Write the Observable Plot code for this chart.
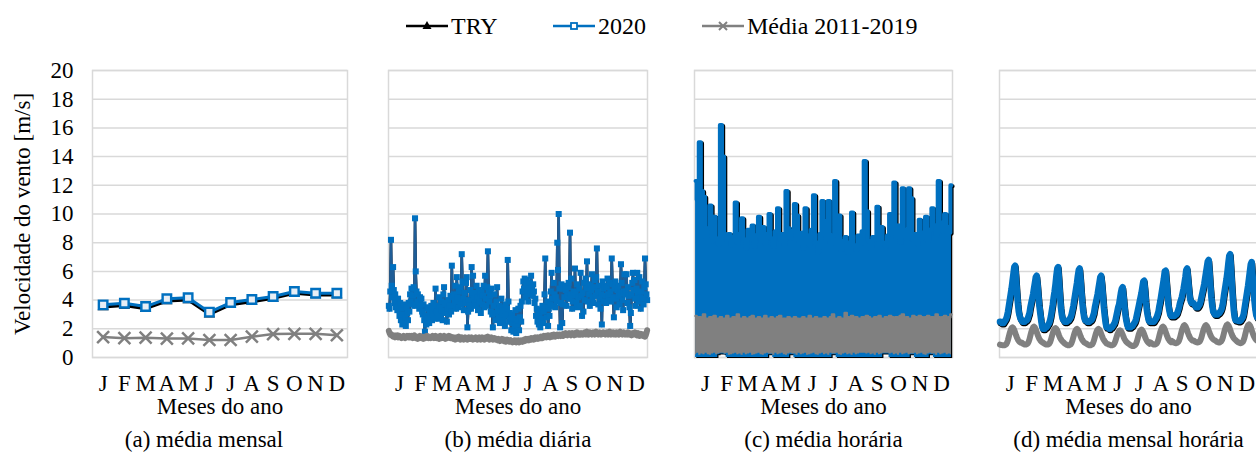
<!DOCTYPE html>
<html><head><meta charset="utf-8">
<script src="https://cdn.jsdelivr.net/npm/d3@7"></script>
<script src="https://cdn.jsdelivr.net/npm/@observablehq/plot@0.6"></script>
<style>
html,body{margin:0;padding:0;background:#fff;overflow:hidden;}
#root{position:relative;width:1256px;height:452px;overflow:hidden;font-family:'Liberation Serif','Times New Roman',serif;color:#000;background:#fff;}
#legend{position:absolute;left:0;top:0;width:1256px;height:50px;}
.li{position:absolute;top:12px;height:28px;display:flex;align-items:center;font-size:24px;white-space:nowrap;}
.li span{margin-left:3px;}
.panel{position:absolute;top:50px;height:402px;}
.panel svg, .panel svg text{font-family:'Liberation Serif','Times New Roman',serif !important;}
.panel svg text{font-size:23px;}
</style></head>
<body><div id="root"><div id="legend"></div></div>
<script>
// ---------- data ----------
const monthLabels = ["J","F","M","A","M","J","J","A","S","O","N","D"];
const monthDays = [31,29,31,30,31,30,31,31,30,31,30,31];
const yTicks = [0,2,4,6,8,10,12,14,16,18,20];
const seriesNames = ["TRY", "2020", "Média 2011-2019"];
const captions = ["(a) média mensal", "(b) média diária", "(c) média horária", "(d) média mensal horária"];
const xLabel = "Meses do ano";
const yLabel = "Velocidade do vento [m/s]";

// (a) monthly mean
const tryMensal   = [3.52, 3.63, 3.40, 3.93, 4.01, 3.01, 3.68, 3.88, 4.12, 4.47, 4.35, 4.36];
const v2020Mensal = [3.67, 3.78, 3.55, 4.09, 4.16, 3.16, 3.83, 4.04, 4.25, 4.60, 4.48, 4.48];
const mediaMensal = [1.42, 1.35, 1.38, 1.32, 1.33, 1.22, 1.22, 1.45, 1.63, 1.65, 1.65, 1.55];

// (b) daily mean, 2020 (TRY coincides with it in the picture)
const v2020Diario = [
  3.6,3.4,4.6,8.2,5.0,4.2,6.3,4.7,3.8,4.4,3.5,4.0,3.3,4.1,3.6,2.9,3.8,2.6,3.4,2.3,3.0,3.7,2.4,2.8,2.2,3.5,3.1,2.6,3.8,3.2,4.4,
  3.9,4.8,3.7,4.3,4.9,3.6,9.7,6.0,4.6,3.9,4.4,3.8,3.4,4.2,3.6,4.1,3.2,3.0,3.7,2.6,1.8,2.9,2.3,3.4,2.7,3.5,2.4,3.3,2.9,
  3.6,2.6,3.1,3.8,2.8,3.4,4.8,3.2,2.7,3.6,3.0,4.2,3.5,2.9,3.9,3.3,2.6,4.4,4.9,3.7,3.1,3.8,2.5,3.4,4.0,3.0,3.6,4.3,3.2,6.4,4.2,
  3.6,4.4,3.9,5.0,3.4,5.6,4.2,3.5,4.6,3.9,4.9,3.7,7.2,5.3,4.1,3.3,4.5,3.8,5.2,5.6,2.1,3.2,4.0,3.6,4.7,3.4,6.3,4.4,5.7,4.1,
  3.8,4.5,3.6,5.0,4.2,3.3,4.7,3.9,4.4,3.1,4.6,3.7,4.3,5.0,3.5,5.7,4.1,3.6,4.9,7.4,4.6,3.9,4.3,3.2,4.8,3.0,2.1,3.6,4.4,3.1,2.6,
  3.9,4.9,3.3,2.8,3.6,2.4,3.2,4.1,2.9,3.5,2.6,3.3,2.2,3.7,2.9,3.4,6.8,3.9,2.5,3.1,2.7,1.9,3.0,2.4,1.8,2.7,2.2,3.3,1.7,2.3,
  2.6,3.4,1.9,2.8,3.6,2.5,3.9,4.6,5.3,4.8,5.5,4.2,5.0,5.4,4.5,3.9,4.7,5.2,4.4,5.7,4.9,4.3,5.1,4.6,3.8,4.1,2.9,3.4,2.5,3.1,2.3,
  3.0,2.1,3.3,2.7,3.6,2.4,3.2,4.4,6.9,3.5,2.8,3.9,2.2,3.4,2.9,3.7,4.6,5.9,4.1,3.6,5.2,4.4,3.5,4.2,3.9,8.0,6.1,10.0,4.8,2.1,3.8,
  5.1,2.4,3.7,4.8,4.2,5.0,4.7,3.6,4.3,4.9,5.2,4.1,8.7,4.4,5.5,3.4,3.9,4.6,4.3,6.2,4.5,3.8,5.1,3.5,4.2,4.8,3.6,5.9,4.3,2.9,
  4.5,3.2,5.2,4.0,5.5,4.8,6.7,3.9,5.1,4.4,3.6,5.0,4.7,5.8,4.2,3.8,4.9,5.4,4.3,5.6,7.6,4.6,3.7,5.0,4.1,3.4,4.4,2.3,5.3,4.8,3.9,
  5.0,4.3,3.8,4.9,5.5,4.4,4.0,5.2,4.6,3.9,6.9,5.1,4.2,2.8,4.8,5.3,4.1,3.5,4.7,5.0,4.3,3.7,4.5,6.5,5.2,4.0,3.3,4.6,5.8,4.4,
  4.6,5.8,3.8,4.9,4.3,3.5,2.2,3.1,4.4,5.2,5.9,4.7,5.4,4.1,3.6,4.8,5.9,4.5,3.9,5.6,4.2,3.4,4.6,5.3,4.1,3.7,4.9,6.9,5.1,4.4,4.0
];
const tryDiario = v2020Diario;
const mediaDiario = [
  1.85,1.7,1.6,1.55,1.6,1.5,1.45,1.55,1.5,1.4,1.5,1.45,1.55,1.4,1.45,1.5,1.4,1.45,1.35,1.45,1.4,1.5,1.4,1.35,1.45,1.4,1.5,1.45,1.4,1.5,1.45,
  1.4,1.5,1.45,1.35,1.45,1.55,1.4,1.35,1.45,1.4,1.3,1.45,1.4,1.5,1.4,1.35,1.45,1.4,1.3,1.4,1.45,1.35,1.4,1.5,1.4,1.35,1.45,1.4,1.35,
  1.45,1.4,1.5,1.45,1.35,1.4,1.5,1.45,1.35,1.4,1.45,1.3,1.4,1.5,1.45,1.35,1.4,1.45,1.5,1.4,1.3,1.4,1.45,1.35,1.4,1.5,1.4,1.35,1.45,1.4,1.35,
  1.3,1.4,1.35,1.25,1.35,1.4,1.3,1.35,1.45,1.3,1.25,1.35,1.4,1.3,1.35,1.25,1.3,1.4,1.35,1.3,1.25,1.35,1.4,1.3,1.35,1.3,1.4,1.35,1.25,1.3,
  1.35,1.3,1.4,1.3,1.25,1.35,1.3,1.4,1.35,1.25,1.3,1.4,1.35,1.3,1.25,1.35,1.4,1.3,1.35,1.45,1.3,1.25,1.35,1.3,1.4,1.3,1.25,1.3,1.35,1.3,1.25,
  1.3,1.25,1.2,1.3,1.25,1.15,1.25,1.2,1.3,1.2,1.15,1.25,1.2,1.1,1.2,1.25,1.15,1.2,1.1,1.15,1.2,1.1,1.15,1.05,1.15,1.1,1.2,1.1,1.05,1.15,
  1.1,1.2,1.05,1.15,1.1,1.2,1.15,1.1,1.2,1.25,1.15,1.2,1.3,1.2,1.25,1.3,1.2,1.25,1.3,1.35,1.25,1.3,1.35,1.25,1.3,1.4,1.3,1.35,1.4,1.3,1.35,
  1.4,1.35,1.45,1.4,1.35,1.45,1.5,1.4,1.45,1.5,1.4,1.45,1.55,1.45,1.5,1.4,1.5,1.55,1.45,1.5,1.6,1.5,1.45,1.55,1.5,1.6,1.55,1.5,1.6,1.55,1.5,
  1.55,1.6,1.5,1.65,1.55,1.6,1.7,1.6,1.55,1.65,1.6,1.7,1.6,1.55,1.65,1.7,1.6,1.65,1.55,1.7,1.65,1.6,1.75,1.65,1.6,1.7,1.65,1.6,1.7,1.65,
  1.6,1.7,1.65,1.75,1.6,1.7,1.8,1.65,1.6,1.7,1.75,1.65,1.7,1.6,1.65,1.75,1.7,1.6,1.7,1.8,1.65,1.7,1.6,1.65,1.75,1.7,1.6,1.65,1.7,1.75,1.65,
  1.7,1.6,1.65,1.75,1.7,1.6,1.65,1.8,1.7,1.6,1.65,1.7,1.75,1.6,1.65,1.7,1.6,1.75,1.7,1.65,1.6,1.7,1.8,1.65,1.7,1.6,1.65,1.75,1.7,1.6,
  1.65,1.7,1.6,1.75,1.65,1.6,1.7,1.65,1.55,1.65,1.7,1.6,1.65,1.75,1.6,1.55,1.65,1.7,1.6,1.5,1.6,1.65,1.55,1.6,1.5,1.55,1.6,1.45,1.55,1.7,1.9
];

// (c) hourly values, read as max/min envelope per 3-day span
const v2020HorarioMax = [
  12.3,11.0,15.0,11.6,11.2,8.4,9.0,10.6,8.1,9.8,
  8.3,7.9,16.2,14.0,8.6,8.2,8.6,7.8,8.4,10.8,
  8.0,8.6,9.7,8.2,7.6,8.9,8.3,9.2,7.7,8.5,
  9.8,8.1,9.1,7.9,8.6,10.0,8.3,7.7,8.8,10.4,
  8.2,8.6,7.9,11.6,9.0,8.3,8.8,10.7,9.9,8.1,
  8.7,7.6,10.4,8.5,7.8,8.9,11.3,8.0,7.3,8.6,
  10.9,9.5,8.2,10.9,7.9,8.5,12.3,8.7,9.9,7.5,
  8.1,8.4,7.3,8.0,10.1,7.8,7.5,8.5,7.9,8.8,
  13.7,10.2,8.1,7.6,8.4,8.2,10.5,8.6,9.1,8.0,
  7.7,8.5,10.0,8.8,12.2,8.4,9.2,8.0,11.8,8.9,
  8.3,11.8,11.1,8.2,8.6,7.9,9.6,8.3,8.7,9.8,
  8.1,8.9,10.4,9.2,8.5,12.3,9.4,8.8,10.0,9.1,
  8.7,12.0
];
const v2020HorarioMin = [
  0,0,0,0,0,0,0,0,0,0,
  0,0.2,0.25,0.25,0.2,0,0,0,0,0,
  0,0,0,0,0,0,0,0,0,0,
  0,0,0,0,0,0.2,0.2,0,0,0,
  0,0,0,0,0,0.2,0.2,0,0,0,
  0,0,0,0,0,0,0,0,0,0,
  0,0,0,0,0,0.2,0.2,0,0,0,
  0,0,0,0,0,0,0,0,0,0,
  0,0,0,0,0,0,0,0,0,0.25,
  0.25,0.25,0,0,0,0,0,0,0,0,
  0,0,0.2,0.2,0,0,0,0,0,0,
  0,0.2,0.2,0,0,0,0,0,0,0,
  0,0
];
const mediaHorarioMax = [
  2.9,2.7,2.8,2.6,3.0,2.7,2.6,2.8,2.7,2.9,
  2.6,2.7,2.8,2.6,2.7,2.9,2.6,2.7,2.8,2.6,
  3.0,2.7,2.6,2.8,2.7,2.6,2.8,2.9,2.6,2.7,
  2.8,2.6,2.7,2.9,2.7,2.6,2.8,2.7,2.6,2.8,
  2.9,2.6,2.7,2.6,2.8,2.7,2.6,2.8,2.7,2.6,
  2.7,2.8,2.6,2.7,2.9,2.6,2.7,2.8,2.6,2.7,
  2.6,2.8,2.7,2.6,2.8,3.0,2.7,2.6,2.8,2.7,
  2.6,3.1,2.8,2.7,2.9,2.7,2.8,2.7,2.6,2.8,
  2.7,2.9,2.8,2.6,2.7,2.8,2.7,2.9,2.7,2.6,
  2.8,2.7,2.9,2.8,2.7,2.8,2.6,2.9,3.0,2.7,
  2.8,2.6,2.7,2.9,2.8,2.7,2.9,2.8,2.7,2.8,
  2.9,2.7,2.8,2.7,3.0,2.8,2.7,2.8,2.9,2.7,
  2.8,3.0
];
const mediaHorarioMin = [
  0.2,0.3,0.15,0.25,0.2,0.3,0.2,0.15,0.25,0.3,
  0.2,0.25,0.3,0.3,0.25,0.3,0.15,0.2,0.25,0.3,
  0.2,0.25,0.15,0.3,0.2,0.25,0.3,0.15,0.2,0.25,
  0.3,0.2,0.15,0.25,0.3,0.25,0.25,0.15,0.3,0.2,
  0.25,0.3,0.2,0.15,0.25,0.3,0.25,0.25,0.15,0.3,
  0.2,0.25,0.3,0.15,0.2,0.25,0.3,0.2,0.15,0.25,
  0.3,0.2,0.25,0.15,0.3,0.25,0.25,0.3,0.2,0.15,
  0.25,0.3,0.2,0.25,0.15,0.3,0.2,0.25,0.3,0.3,
  0.3,0.25,0.3,0.2,0.25,0.15,0.3,0.2,0.25,0.3,
  0.3,0.3,0.25,0.3,0.2,0.25,0.15,0.3,0.2,0.25,
  0.3,0.2,0.25,0.25,0.3,0.2,0.25,0.3,0.2,0.15,
  0.25,0.3,0.25,0.25,0.15,0.3,0.2,0.25,0.3,0.2,
  0.25,0.2
];

// (d) monthly mean per hour of day (12 x 24)
const v2020MensalHorario = [
  2.5,2.5,2.4,2.4,2.4,2.5,2.6,2.7,2.9,3.2,3.6,4.0,4.4,4.8,5.3,5.8,6.3,6.4,5.6,4.6,3.8,3.2,2.9,2.7,
  2.6,2.5,2.5,2.5,2.5,2.6,2.6,2.7,2.9,3.1,3.5,3.8,4.1,4.4,4.8,5.2,5.6,5.7,5.1,4.3,3.6,3.1,2.6,2.2,
  2.0,2.0,2.0,2.1,2.1,2.2,2.3,2.4,2.6,2.9,3.3,3.7,4.2,4.6,5.1,5.7,6.2,6.3,5.4,4.4,3.5,3.0,2.7,2.6,
  2.5,2.5,2.5,2.5,2.6,2.6,2.7,2.8,3.0,3.3,3.6,4.0,4.4,4.8,5.2,5.7,6.1,6.2,5.5,4.6,3.8,3.2,2.8,2.6,
  2.6,2.5,2.5,2.5,2.5,2.6,2.6,2.7,2.9,3.1,3.5,3.8,4.1,4.4,4.8,5.2,5.6,5.7,5.1,4.3,3.5,2.9,2.4,2.1,
  2.1,2.1,2.0,2.0,2.1,2.1,2.2,2.3,2.4,2.6,2.9,3.2,3.5,3.7,4.1,4.5,4.8,4.9,4.3,3.6,3.0,2.6,2.3,2.1,
  2.1,2.1,2.1,2.2,2.2,2.3,2.4,2.5,2.7,3.0,3.3,3.6,3.9,4.2,4.5,4.9,5.3,5.35,4.7,3.9,3.3,2.9,2.6,2.5,
  2.5,2.5,2.5,2.5,2.5,2.6,2.7,2.8,3.0,3.2,3.6,3.9,4.3,4.7,5.1,5.5,6.0,6.05,5.3,4.5,3.7,3.3,3.0,2.9,
  2.9,2.9,2.9,2.9,3.0,3.0,3.1,3.3,3.5,3.8,4.0,4.2,4.5,4.8,5.2,5.6,6.1,6.2,5.5,4.8,4.2,3.9,3.8,3.8,
  3.8,3.7,3.6,3.5,3.5,3.5,3.6,3.7,3.9,4.2,4.5,4.8,5.1,5.5,5.9,6.3,6.7,6.8,6.0,5.0,4.2,3.6,3.2,3.1,
  3.0,3.0,3.0,3.0,3.1,3.1,3.2,3.3,3.5,3.8,4.3,4.7,5.1,5.5,6.0,6.6,7.1,7.2,6.2,5.1,4.1,3.3,2.8,2.6,
  2.6,2.6,2.55,2.55,2.55,2.6,2.7,2.8,3.0,3.4,3.8,4.2,4.6,5.0,5.5,6.0,6.5,6.65,5.8,4.8,4.0,3.4,3.0,2.8
];
const tryMensalHorario = v2020MensalHorario;
const mediaMensalHorario = [
  0.9,0.88,0.86,0.85,0.85,0.85,0.88,0.93,1.04,1.23,1.48,1.73,1.91,2.05,2.1,2.04,1.91,1.73,1.54,1.38,1.25,1.15,1.08,1.03,
  1.05,1.0,0.95,0.92,0.9,0.9,0.93,0.98,1.09,1.28,1.53,1.78,1.96,2.1,2.15,2.09,1.96,1.78,1.59,1.43,1.3,1.2,1.12,1.07,
  1.04,0.99,0.95,0.92,0.9,0.9,0.92,0.97,1.07,1.25,1.48,1.71,1.88,2.0,2.05,1.99,1.88,1.71,1.53,1.38,1.27,1.18,1.11,1.06,
  0.99,0.94,0.9,0.87,0.85,0.85,0.87,0.92,1.02,1.2,1.43,1.66,1.83,1.95,2.0,1.94,1.83,1.66,1.48,1.33,1.22,1.13,1.06,1.01,
  0.99,0.94,0.9,0.87,0.85,0.85,0.87,0.92,1.02,1.2,1.43,1.66,1.83,1.95,2.0,1.94,1.83,1.66,1.48,1.33,1.22,1.13,1.05,0.98,
  0.95,0.92,0.89,0.87,0.85,0.85,0.87,0.91,1.01,1.17,1.38,1.59,1.74,1.86,1.9,1.85,1.74,1.59,1.43,1.29,1.19,1.1,1.04,0.99,
  0.94,0.89,0.85,0.82,0.8,0.8,0.82,0.87,0.97,1.15,1.38,1.61,1.78,1.9,1.95,1.89,1.78,1.61,1.43,1.28,1.17,1.08,1.01,0.96,
  1.05,1.0,0.95,0.92,0.9,0.9,0.93,0.98,1.09,1.28,1.53,1.78,1.96,2.1,2.15,2.09,1.96,1.78,1.59,1.43,1.3,1.2,1.12,1.07,
  1.15,1.1,1.05,1.02,1.0,1.0,1.03,1.08,1.19,1.38,1.63,1.88,2.06,2.2,2.25,2.19,2.06,1.88,1.69,1.53,1.4,1.3,1.23,1.18,
  1.19,1.14,1.1,1.07,1.05,1.05,1.07,1.12,1.23,1.41,1.65,1.89,2.07,2.2,2.25,2.19,2.07,1.89,1.71,1.55,1.43,1.34,1.27,1.22,
  1.2,1.15,1.1,1.07,1.05,1.05,1.08,1.13,1.24,1.43,1.68,1.93,2.11,2.25,2.3,2.24,2.11,1.93,1.74,1.58,1.45,1.35,1.27,1.22,
  1.16,1.1,1.05,1.03,1.0,1.0,1.03,1.08,1.2,1.39,1.65,1.91,2.11,2.25,2.3,2.24,2.11,1.91,1.72,1.55,1.42,1.31,1.23,1.18
];

// ---------- colours ----------
const C_TRY = "#000000", C_2020 = "#0070c0", C_MEDIA = "#808080", C_GRID = "#d9d9d9";

// ---------- legend ----------
const legend = document.getElementById("legend");
const sw = [
  `<svg width="42" height="20"><line x1="0" y1="10" x2="42" y2="10" stroke="${C_TRY}" stroke-width="2.5"/><path d="M21,5 L25.5,13 L16.5,13 Z" fill="${C_TRY}"/></svg>`,
  `<svg width="42" height="20"><line x1="0" y1="10" x2="42" y2="10" stroke="${C_2020}" stroke-width="2.5"/><rect x="18" y="7" width="6" height="6" fill="#fff" stroke="${C_2020}" stroke-width="1.8"/></svg>`,
  `<svg width="42" height="20"><line x1="0" y1="10" x2="42" y2="10" stroke="${C_MEDIA}" stroke-width="2.5"/><path d="M17,6 L25,14 M25,6 L17,14" stroke="${C_MEDIA}" stroke-width="2"/></svg>`
];
const legendLeft = [406, 553, 702];
seriesNames.forEach((n, i) => {
  const d = document.createElement("div");
  d.className = "li"; d.style.left = legendLeft[i] + "px";
  d.innerHTML = sw[i] + `<span>${n}</span>`;
  legend.appendChild(d);
});

// ---------- helpers ----------
const root = document.getElementById("root");
const FONT = "Liberation Serif";
const baseStyle = {fontFamily: FONT, fontSize: "23px", color: "#000", background: "transparent", maxWidth: "none", overflow: "visible"};
const idx = (d, i) => i;
const val = d => d;
const gridMarks = () => [
  Plot.ruleY(yTicks, {stroke: C_GRID, strokeWidth: 1.5}),
  Plot.frame({stroke: C_GRID, strokeWidth: 1.5})
];
const monthAxis = ticks => Plot.axisX(ticks, {tickSize: 0, tickPadding: 17, label: null, fontFamily: FONT, fontSize: 23,
  tickFormat: d => monthLabels[ticks.indexOf(d)]});
const bottomText = (t, dy, dx = 0) => Plot.text([t], {text: val, frameAnchor: "bottom", lineAnchor: "middle", dy, dx, fontSize: 23, fontFamily: FONT});

function addPanel(left, width, marginLeft, opts) {
  const svg = Plot.plot({width, height: 402, marginTop: 20, marginBottom: 95, marginLeft, marginRight: 13,
    style: baseStyle, ...opts});
  const div = document.createElement("div");
  div.className = "panel"; div.style.left = left + "px"; div.style.width = width + "px";
  div.appendChild(svg); root.appendChild(div);
}

// month tick positions in day and hour units
const monthStart = monthDays.map((d, i) => d3.sum(monthDays.slice(0, i)));
const dayTicks = monthDays.map((d, i) => monthStart[i] + d / 2 - 0.5);
const hourTicks = monthLabels.map((m, i) => i * 24 + 11.5);
const nDays = d3.sum(monthDays);
const binIdx = d3.range(v2020HorarioMax.length);
const binX = k => k * 3 + 1;

// ---------- (a) ----------
addPanel(0, 360, 92, {
  x: {domain: [-0.5, 11.5]}, y: {domain: [0, 20]},
  marks: [
    ...gridMarks(),
    Plot.axisY(yTicks, {tickSize: 0, tickPadding: 19, label: null, fontFamily: FONT, fontSize: 23}),
    monthAxis(d3.range(12)),
    Plot.text([yLabel], {text: val, frameAnchor: "left", rotate: -90, dx: -69.5, textAnchor: "middle", lineAnchor: "middle", fontSize: 23, fontFamily: FONT}),
    Plot.line(mediaMensal, {x: idx, y: val, stroke: C_MEDIA, strokeWidth: 2.5}),
    Plot.dot(mediaMensal, {x: idx, y: val, symbol: "times", r: 5.5, stroke: C_MEDIA, strokeWidth: 2.5}),
    Plot.line(tryMensal, {x: idx, y: val, stroke: C_TRY, strokeWidth: 3}),
    Plot.dot(tryMensal, {x: idx, y: val, symbol: "triangle", r: 4.2, fill: C_TRY}),
    Plot.line(v2020Mensal, {x: idx, y: val, stroke: C_2020, strokeWidth: 3}),
    Plot.dot(v2020Mensal, {x: idx, y: val, symbol: "square", r: 4.8, fill: "#e8eef5", stroke: C_2020, strokeWidth: 2.4}),
    bottomText(xLabel, 49),
    bottomText(captions[0], 82, -16)
  ]
});

// ---------- (b) ----------
addPanel(360, 300, 28, {
  x: {domain: [-0.5, nDays - 0.5]}, y: {domain: [0, 20], axis: null},
  marks: [
    ...gridMarks(),
    monthAxis(dayTicks),
    Plot.line(tryDiario, {x: idx, y: val, stroke: C_TRY, strokeWidth: 2.5, dy: 1.5}),
    Plot.line(v2020Diario, {x: idx, y: val, stroke: "#1f5d97", strokeWidth: 2.6}),
    Plot.dot(v2020Diario, {x: idx, y: val, symbol: "square", r: 3.4, fill: C_2020}),
    Plot.line(mediaDiario, {x: idx, y: val, stroke: C_MEDIA, strokeWidth: 6, strokeLinejoin: "round", strokeLinecap: "round"}),
    bottomText(xLabel, 49),
    bottomText(captions[1], 82)
  ]
});

// ---------- (c) ----------
addPanel(660, 305, 34, {
  x: {domain: [-0.5, nDays - 0.5]}, y: {domain: [0, 20], axis: null},
  marks: [
    ...gridMarks(),
    monthAxis(dayTicks),
    Plot.areaY(binIdx, {x: binX, y1: k => v2020HorarioMin[k], y2: k => v2020HorarioMax[k], curve: "step", fill: C_TRY, dx: 1.2, dy: 1}),
    Plot.line(binIdx, {x: binX, y: k => v2020HorarioMax[k], curve: "step", stroke: C_TRY, strokeWidth: 4, dx: 1.2, dy: 1}),
    Plot.areaY(binIdx, {x: binX, y1: k => v2020HorarioMin[k], y2: k => v2020HorarioMax[k], curve: "step", fill: C_2020}),
    Plot.line(binIdx, {x: binX, y: k => v2020HorarioMax[k], curve: "step", stroke: C_2020, strokeWidth: 4}),
    Plot.areaY(binIdx, {x: binX, y1: k => mediaHorarioMin[k], y2: k => mediaHorarioMax[k], curve: "step", fill: C_MEDIA}),
    Plot.line(binIdx, {x: binX, y: k => mediaHorarioMax[k], curve: "step", stroke: C_MEDIA, strokeWidth: 2.5}),
    bottomText(xLabel, 49),
    bottomText(captions[2], 82)
  ]
});

// ---------- (d) ----------
addPanel(965, 305, 34, {
  x: {domain: [-0.5, 287.5]}, y: {domain: [0, 20], axis: null},
  marks: [
    ...gridMarks(),
    monthAxis(hourTicks),
    Plot.line(tryMensalHorario, {x: idx, y: val, stroke: C_TRY, strokeWidth: 6, dy: 1.5, dx: 0.6}),
    Plot.line(v2020MensalHorario, {x: idx, y: val, stroke: C_2020, strokeWidth: 6.5, strokeLinejoin: "round"}),
    Plot.line(mediaMensalHorario, {x: idx, y: val, stroke: C_MEDIA, strokeWidth: 6, strokeLinejoin: "round", strokeLinecap: "round"}),
    bottomText(xLabel, 49),
    bottomText(captions[3], 82)
  ]
});
</script></body></html>
